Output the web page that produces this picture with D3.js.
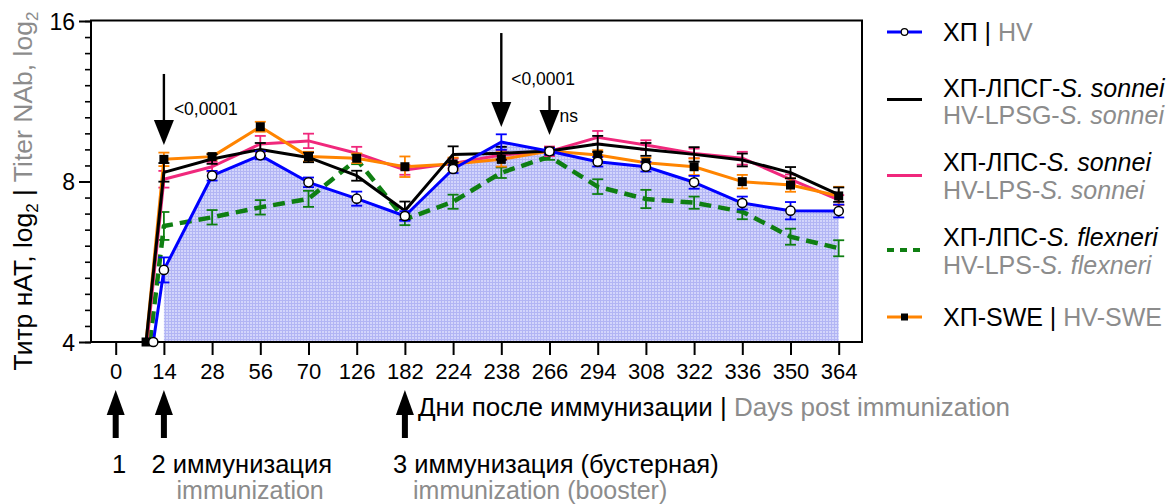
<!DOCTYPE html>
<html><head><meta charset="utf-8">
<script src="https://cdn.jsdelivr.net/npm/d3@7"></script>
<style>
body{margin:0;background:#fff}
text{font-family:"Liberation Sans",Arial,Helvetica,sans-serif}
</style>
</head><body>
<svg id="chart" width="1169" height="504"></svg>
<script>
// ---------- data (values in log2 units; axis labels show 2^v) ----------
const categories = ["0","14","28","56","70","126","182","224","238","266","294","308","322","336","350","364"];
const dataDays   = ["14","28","56","70","126","182","224","238","266","294","308","322","336","350","364"];

const hvValues   = [2.449,3.036,3.163,2.995,2.893,2.785,3.078,3.246,3.188,3.123,3.092,2.995,2.866,2.818,2.816];
const hvErrors   = [0.078,0.030,0.025,0.030,0.044,0.030,0.025,0.048,0.020,0.030,0.030,0.040,0.040,0.054,0.040];

const lpsgValues = [3.057,3.140,3.200,3.150,3.036,2.818,3.169,3.176,3.190,3.234,3.200,3.169,3.134,3.055,2.918];
const lpsgErrors = [0.058,0.030,0.040,0.030,0.031,0.057,0.050,0.040,0.020,0.050,0.040,0.045,0.040,0.035,0.045];

const lpsSonValues = [3.014,3.092,3.234,3.253,3.176,3.072,3.113,3.165,3.188,3.275,3.227,3.175,3.145,3.014,2.885];
const lpsSonErrors = [0.052,0.030,0.050,0.045,0.040,0.030,0.030,0.030,0.030,0.040,0.030,0.030,0.040,0.030,0.030];

const lpsFlexValues = [2.723,2.777,2.839,2.892,3.138,2.764,2.874,3.055,3.155,2.968,2.891,2.868,2.812,2.656,2.584];
const lpsFlexErrors = [0.087,0.045,0.045,0.050,0.030,0.036,0.044,0.033,0.020,0.046,0.057,0.038,0.047,0.050,0.050];

const sweValues  = [3.138,3.155,3.341,3.155,3.145,3.092,3.109,3.138,3.190,3.165,3.117,3.092,2.999,2.978,2.910];
const sweErrors  = [0.042,0.020,0.031,0.030,0.030,0.064,0.040,0.045,0.020,0.030,0.030,0.052,0.042,0.042,0.057];

// baseline (before immunization) value and its position between day 0 and day 14
const baselineValue = 2;
const baselinePos = {hv:0.78, lpsg:0.63, lpsSon:0.65, lpsFlex:0.71, swe:0.63};
const hvNoMarkerDays = ["238"];

const yTickValues = [2,3,4];
const yMinorTicks = d3.range(20,41).map(d=>d/10);

const topArrowDays   = ["14","238","266"];
const topArrowFrom   = [3.67,3.925,3.533];
const topArrowTo     = [3.227,3.34,3.29];
const topArrowLabels = ["<0,0001","<0,0001","ns"];
const topArrowLabelY = [3.414,3.601,3.373];

const immunizationDays = ["0","14","182"];

// ---------- layout ----------
const svg = d3.select("#chart");
const x = d3.scaleLinear().domain([0, categories.length-1]).range([115.7, 838.7]);
const y = d3.scaleLinear().domain([2,4]).range([342,21]);
const pos = d => categories.indexOf(d);
const FONT = '"Liberation Sans",Arial,sans-serif';

// pattern for shaded area
const defs = svg.append("defs");
const pat = defs.append("pattern").attr("id","grid").attr("width",3).attr("height",3).attr("patternUnits","userSpaceOnUse");
pat.append("rect").attr("width",3).attr("height",3).attr("fill","#d3d5fb");
pat.append("rect").attr("x",0).attr("y",0).attr("width",1).attr("height",3).attr("fill","#b2b5f4");
pat.append("rect").attr("x",0).attr("y",0).attr("width",3).attr("height",1).attr("fill","#b2b5f4");

// shaded area under HV
const area = d3.area().x(d=>x(pos(d.day))).y0(y(2)).y1(d=>y(d.v));
svg.append("path").datum(dataDays.map((d,i)=>({day:d,v:hvValues[i]})))
  .attr("d",area).attr("fill","url(#grid)");

// axes
const yAxisMinor = svg.append("g").attr("transform","translate(91,0)")
  .call(d3.axisLeft(y).tickValues(yMinorTicks).tickSize(6).tickFormat(""));
yAxisMinor.select(".domain").remove();
yAxisMinor.selectAll("line").attr("stroke","#000").attr("stroke-width",1.6);

const yAxis = svg.append("g").attr("transform","translate(91,0)")
  .call(d3.axisLeft(y).tickValues(yTickValues).tickSize(12).tickPadding(4).tickFormat(d=>String(2**d)));
yAxis.select(".domain").remove();
yAxis.selectAll("line").attr("stroke","#000").attr("stroke-width",2);
yAxis.selectAll("text").attr("font-size",23).attr("font-family",FONT).attr("fill","#000").attr("dy","0.36em");

const xAxis = svg.append("g").attr("transform","translate(0,342)")
  .call(d3.axisBottom(x).tickValues(d3.range(categories.length)).tickSize(13).tickPadding(8).tickFormat(i=>categories[i]));
xAxis.select(".domain").remove();
xAxis.selectAll("line").attr("stroke","#000").attr("stroke-width",2);
xAxis.selectAll("text").attr("font-size",22).attr("font-family",FONT).attr("fill","#000");

// frame
svg.append("rect").attr("x",91).attr("y",20.5).attr("width",862-91).attr("height",342-20.5)
  .attr("fill","none").attr("stroke","#000").attr("stroke-width",2);

// series
const series = [
  {key:"lpsFlex", values:lpsFlexValues, errors:lpsFlexErrors, color:"#0f7f12", width:4.5, dash:"12,7"},
  {key:"lpsSon",  values:lpsSonValues,  errors:lpsSonErrors,  color:"#f0287c", width:3},
  {key:"swe",     values:sweValues,     errors:sweErrors,     color:"#ff8400", width:3},
  {key:"lpsg",    values:lpsgValues,    errors:lpsgErrors,    color:"#000000", width:3},
  {key:"hv",      values:hvValues,      errors:hvErrors,      color:"#0000ff", width:3},
];
const line = d3.line().x(d=>d.x).y(d=>d.y);

series.forEach(s=>{
  const pts = [{x:x(baselinePos[s.key]), y:y(baselineValue)}]
    .concat(dataDays.map((d,i)=>({x:x(pos(d)), y:y(s.values[i])})));
  const g = svg.append("g");
  dataDays.forEach((d,i)=>{
    const cx = x(pos(d)), v=s.values[i], e=s.errors[i];
    const t=y(v+e), b=y(v-e);
    g.append("line").attr("x1",cx).attr("x2",cx).attr("y1",t).attr("y2",b).attr("stroke",s.color).attr("stroke-width",1.8);
    g.append("line").attr("x1",cx-5.5).attr("x2",cx+5.5).attr("y1",t).attr("y2",t).attr("stroke",s.color).attr("stroke-width",1.8);
    g.append("line").attr("x1",cx-5.5).attr("x2",cx+5.5).attr("y1",b).attr("y2",b).attr("stroke",s.color).attr("stroke-width",1.8);
  });
  svg.append("path").datum(pts).attr("d",line).attr("fill","none")
    .attr("stroke",s.color).attr("stroke-width",s.width).attr("stroke-dasharray",s.dash||null)
    .attr("stroke-linejoin","round");
});

// markers: SWE squares, HV circles
const sq = 9;
svg.append("rect").attr("x",x(baselinePos.swe)-sq/2).attr("y",y(baselineValue)-sq/2).attr("width",sq).attr("height",sq).attr("fill","#000");
dataDays.forEach((d,i)=>{
  svg.append("rect").attr("x",x(pos(d))-sq/2).attr("y",y(sweValues[i])-sq/2).attr("width",sq).attr("height",sq).attr("fill","#000");
});
svg.append("circle").attr("cx",x(baselinePos.hv)).attr("cy",y(baselineValue)).attr("r",4.6).attr("fill","#fff").attr("stroke","#000").attr("stroke-width",1.5);
dataDays.forEach((d,i)=>{
  if (hvNoMarkerDays.includes(d)) return;
  svg.append("circle").attr("cx",x(pos(d))).attr("cy",y(hvValues[i])).attr("r",4.6).attr("fill","#fff").attr("stroke","#000").attr("stroke-width",1.5);
});

// top significance arrows
topArrowDays.forEach((d,i)=>{
  const cx = x(pos(d)), top=y(topArrowFrom[i]), tip=y(topArrowTo[i]);
  const headLen = 25, headW = 10;
  svg.append("line").attr("x1",cx).attr("x2",cx).attr("y1",top).attr("y2",tip-headLen+2).attr("stroke","#000").attr("stroke-width",2.4);
  svg.append("path").attr("d",`M${cx-headW},${tip-headLen}L${cx+headW},${tip-headLen}L${cx},${tip}Z`).attr("fill","#000");
  svg.append("text").attr("x",cx+10).attr("y",y(topArrowLabelY[i])).attr("font-size",17.5).attr("fill","#000").text(topArrowLabels[i]);
});

// bottom immunization arrows
immunizationDays.forEach(d=>{
  const cx = x(pos(d));
  svg.append("path").attr("d",`M${cx},390L${cx+9},415L${cx-9},415Z`).attr("fill","#000");
  svg.append("rect").attr("x",cx-3).attr("y",412).attr("width",6).attr("height",26).attr("fill","#000");
});

// axis titles
const GRAY = "#8c8c8c";
const yt = svg.append("text").attr("transform","translate(32,191) rotate(-90)").attr("text-anchor","middle").attr("font-size",26.5);
yt.append("tspan").attr("fill","#000").text("Титр нАТ, log");
yt.append("tspan").attr("fill","#000").attr("font-size",17).attr("dy",6).text("2");
yt.append("tspan").attr("fill","#000").attr("dy",-6).text(" | ");
yt.append("tspan").attr("fill",GRAY).text("Titer NAb, log");
yt.append("tspan").attr("fill",GRAY).attr("font-size",17).attr("dy",6).text("2");

const xt = svg.append("text").attr("x",418).attr("y",416).attr("font-size",26);
xt.append("tspan").attr("fill","#000").text("Дни после иммунизации | ");
xt.append("tspan").attr("fill",GRAY).text("Days post immunization");

// immunization labels
svg.append("text").attr("x",112).attr("y",473).attr("font-size",25.5).attr("fill","#000").text("1");
svg.append("text").attr("x",151.5).attr("y",473).attr("font-size",25.5).attr("fill","#000").text("2 иммунизация");
svg.append("text").attr("x",176.5).attr("y",499).attr("font-size",25).attr("fill",GRAY).text("immunization");
svg.append("text").attr("x",393).attr("y",473).attr("font-size",25.5).attr("fill","#000").text("3 иммунизация (бустерная)");
svg.append("text").attr("x",413).attr("y",499).attr("font-size",25).attr("fill",GRAY).text("immunization (booster)");

// legend
const LX1 = 887, LX2 = 922, TX = 943;
function legText(yc, parts){
  const t = svg.append("text").attr("x",TX).attr("y",yc).attr("dy","0.36em").attr("font-size",25);
  parts.forEach(p=>t.append("tspan").attr("fill",p[1]).attr("font-style",p[2]?"italic":null).text(p[0]));
}
// HV
svg.append("line").attr("x1",LX1).attr("x2",LX2).attr("y1",32).attr("y2",32).attr("stroke","#0000ff").attr("stroke-width",3);
svg.append("circle").attr("cx",(LX1+LX2)/2).attr("cy",32).attr("r",3.3).attr("fill","#fff").attr("stroke","#000").attr("stroke-width",1.2);
legText(32, [["ХП | ","#000"],["HV",GRAY]]);
// LPSG
svg.append("line").attr("x1",LX1).attr("x2",LX2).attr("y1",99.5).attr("y2",99.5).attr("stroke","#000").attr("stroke-width",3);
legText(88, [["ХП-ЛПСГ-","#000"],["S. sonnei","#000",1]]);
legText(115, [["HV-LPSG-",GRAY],["S. sonnei",GRAY,1]]);
// LPS sonnei
svg.append("line").attr("x1",LX1).attr("x2",LX2).attr("y1",175.5).attr("y2",175.5).attr("stroke","#f0287c").attr("stroke-width",3);
legText(162, [["ХП-ЛПС-","#000"],["S. sonnei","#000",1]]);
legText(190, [["HV-LPS-",GRAY],["S. sonnei",GRAY,1]]);
// LPS flexneri
svg.append("line").attr("x1",LX1).attr("x2",LX2).attr("y1",250).attr("y2",250).attr("stroke","#0f7f12").attr("stroke-width",4).attr("stroke-dasharray","7,6");
legText(237, [["ХП-ЛПС-","#000"],["S. flexneri","#000",1]]);
legText(265, [["HV-LPS-",GRAY],["S. flexneri",GRAY,1]]);
// SWE
svg.append("line").attr("x1",LX1).attr("x2",LX2).attr("y1",317).attr("y2",317).attr("stroke","#ff8400").attr("stroke-width",3);
svg.append("rect").attr("x",(LX1+LX2)/2-3.5).attr("y",313.5).attr("width",7).attr("height",7).attr("fill","#000");
legText(317, [["ХП-SWE | ","#000"],["HV-SWE",GRAY]]);
</script>
</body></html>
